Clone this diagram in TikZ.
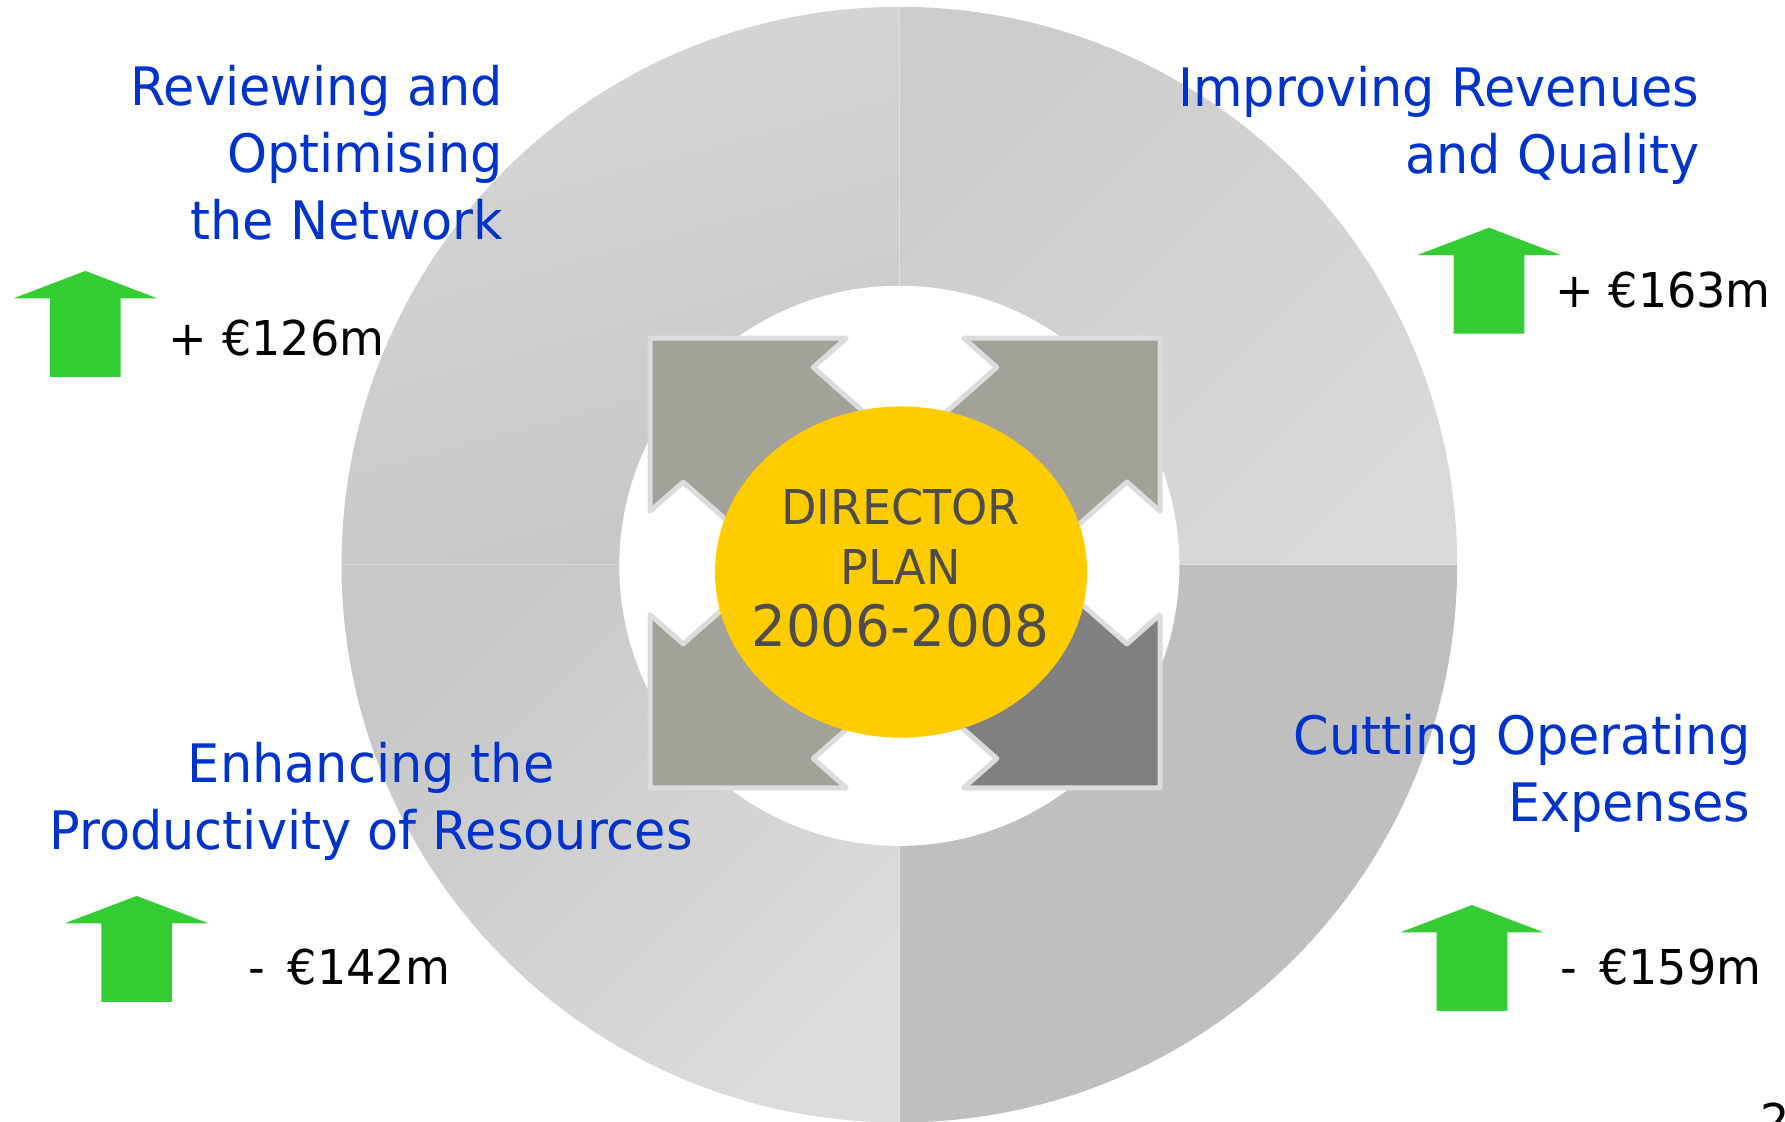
\documentclass[tikz,border=0pt]{standalone}
\usepackage{fontspec}
\setmainfont{DejaVu Sans}[FakeStretch=0.96]
\usetikzlibrary{shapes.geometric}
\definecolor{headblue}{RGB}{0,51,204}
\definecolor{upgreen}{RGB}{51,204,51}
\definecolor{planyellow}{RGB}{255,204,0}
\definecolor{arrowgrey}{RGB}{162,162,154}
\definecolor{arrowdark}{RGB}{128,128,128}
\definecolor{rimgrey}{RGB}{220,220,220}
\definecolor{plantext}{RGB}{77,77,77}
\tikzstyle{goal} = [text=headblue, font=\fontsize{26.5}{33.5}\selectfont, inner sep=0pt]
\tikzstyle{amount} = [text=black, font=\fontsize{24}{29}\selectfont, inner sep=0pt, anchor=base west]
\tikzstyle{planword} = [text=plantext, inner sep=0pt, anchor=base]
\tikzstyle{uparrow} = [fill=upgreen]
\tikzstyle{sepline} = [draw=white!88!black, line width=0.6pt]
\tikzstyle{quadarrow} = [draw=rimgrey, line width=2.5pt, line join=round]
% one diagonal arrow, tip in the upper left corner of the unit square
\newcommand{\drawcornerarrow}[1]{%
  \draw[quadarrow, fill=#1] (-1,-1) -- (-0.23,-1) -- (-0.36,-0.87) -- (0.255,-0.255)
    -- (-0.255,0.255) -- (-0.87,-0.36) -- (-1,-0.23) -- cycle;}

\begin{document}
\begin{tikzpicture}[x=0.02cm, y=-0.02cm]
\useasboundingbox (0,0) rectangle (1568,985);

%Ring
\coordinate (hub) at (790,496);
\shade[top color=black!16, bottom color=black!22, shading angle=15]
  (hub) -- ++(-490,0) arc[start angle=180, end angle=270, radius=490] -- cycle;
\shade[top color=black!20, bottom color=black!15, shading angle=45]
  (hub) -- ++(0,-490) arc[start angle=270, end angle=360, radius=490] -- cycle;
\fill[black!25]
  (hub) -- ++(490,0) arc[start angle=0, end angle=90, radius=490] -- cycle;
\shade[top color=black!22, bottom color=black!14, shading angle=45]
  (hub) -- ++(0,490) arc[start angle=90, end angle=180, radius=490] -- cycle;
\fill[white] (790,497) circle[radius=246];
\draw[sepline] (hub) ++(0,-246) -- ++(0,-244);
\draw[sepline] (hub) ++(0,246) -- ++(0,244);
\draw[sepline] (hub) ++(246,0) -- ++(244,0);

%Arrows round the plan
\begin{scope}[shift={(795,494.5)}, xscale=224, yscale=197.5]
\drawcornerarrow{arrowgrey}
\begin{scope}[xscale=-1]
\drawcornerarrow{arrowgrey}
\end{scope}
\begin{scope}[yscale=-1]
\drawcornerarrow{arrowgrey}
\end{scope}
\begin{scope}[scale=-1]
\drawcornerarrow{arrowdark}
\end{scope}
\end{scope}

%Plan
\node (plan) [ellipse, fill=planyellow, inner sep=0pt, minimum width=6.54cm, minimum height=5.82cm] at (791.5,502.5) {};
\node (director) [planword, font=\fontsize{24}{28}\selectfont] at (791,461) {DIRECTOR};
\node (planname) [planword, font=\fontsize{24}{28}\selectfont] at (791,513) {PLAN};
\node (years) [planword, font=\fontsize{28.5}{34}\selectfont] at (791,568) {2006-2008};

%Goals
\node (network) [goal, align=right, anchor=base east] at (442,210) {Reviewing and\\Optimising\\the Network};
\node (revenue) [goal, align=right, anchor=base east] at (1493,152) {Improving Revenues\\and Quality};
\node (resources) [goal, align=center, anchor=base] at (326,746) {Enhancing the\\Productivity of Resources};
\node (expenses) [goal, align=right, anchor=base east] at (1538,722) {Cutting Operating\\Expenses};

%Green arrows and amounts
\fill[uparrow] (75,238) -- ++(63,24) -- ++(-32,0) -- ++(0,69) -- ++(-62,0) -- ++(0,-69) -- ++(-32,0) -- cycle;
\fill[uparrow] (1308,200) -- ++(63,24) -- ++(-32,0) -- ++(0,69) -- ++(-62,0) -- ++(0,-69) -- ++(-32,0) -- cycle;
\fill[uparrow] (120,787) -- ++(63,24) -- ++(-32,0) -- ++(0,69) -- ++(-62,0) -- ++(0,-69) -- ++(-32,0) -- cycle;
\fill[uparrow] (1293,795) -- ++(63,24) -- ++(-32,0) -- ++(0,69) -- ++(-62,0) -- ++(0,-69) -- ++(-32,0) -- cycle;
\node (gain126) [amount] at (148,312) {+ €126m};
\node (gain163) [amount] at (1366,270) {+ €163m};
\node (cut142) [amount] at (218,865) {- \,€142m};
\node (cut159) [amount] at (1370,865) {- \,€159m};

\node (pagenum) [amount] at (1546,1000) {2};
\end{tikzpicture}
\end{document}
